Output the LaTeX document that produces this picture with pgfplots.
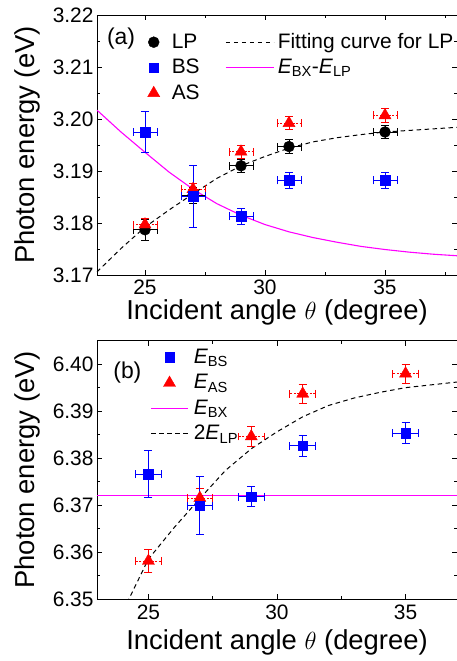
\documentclass[border=0pt]{standalone}
\usepackage{fontspec}
\setmainfont{Liberation Sans}
\usepackage{pgfplots}
\pgfplotsset{compat=1.18}

\definecolor{mgt}{RGB}{255,0,255}
\definecolor{bl}{RGB}{0,0,255}
\definecolor{rd}{RGB}{255,0,0}

\pgfplotsset{
  panel/.style={
    scale only axis, width=360bp,
    xtick={25,30,35}, minor xtick={27.5,32.5,37.5}, minor y tick num=1,
    major tick length=5bp, minor tick length=3bp,
    tick style={line width=0.8pt, black},
    axis line style={line width=1pt},
    tick label style={font=\fontsize{21}{25}\selectfont},
    /pgf/number format/assume math mode=true,
    yticklabel style={/pgf/number format/fixed, /pgf/number format/fixed zerofill, /pgf/number format/precision=2},
    xticklabel style={anchor=base, yshift=-20bp},
    label style={font=\fontsize{27.5}{32}\selectfont},
    ylabel style={at={(axis description cs:-0.1944,0.5)}, anchor=center},
    legend cell align=left,
    legend style={draw=none, fill=none, anchor=north west, font=\fontsize{21}{25}\selectfont,
      nodes={inner sep=2bp, text height=16bp, text depth=4bp}, row sep=1.5bp},
  },
  ebar/.style={error bars/.cd, x dir=both, x explicit, y dir=both, y explicit,
    error bar style={line width=0.9pt},
    error mark options={rotate=90, mark size=4pt, line width=0.9pt}, /pgfplots/.cd},
  yebar/.style={error bars/.cd, y dir=both, y explicit,
    error bar style={line width=0.9pt},
    error mark options={rotate=90, mark size=4pt, line width=0.9pt}, /pgfplots/.cd},
  xebar/.style={error bars/.cd, x dir=both, x explicit,
    error bar style={line width=0.9pt, dash pattern=on 2bp off 1.5bp},
    error mark options={rotate=90, mark size=4pt, line width=0.9pt, solid}, /pgfplots/.cd},
  mimg/.style={legend image code/.code={\draw[##1] plot coordinates {(#1,0bp)};}},
  limg/.style={legend image code/.code={\draw[##1] (0bp,0bp) -- (#1,0bp);}},
  dsh/.style={black, line width=1pt, dash pattern=on 4.5bp off 3.5bp},
  mline/.style={draw=mgt, line width=1.6pt},
}

\begin{document}
\begin{tikzpicture}
\path[use as bounding box] (-97bp,15bp) rectangle (360bp,-646bp);

% ---------- (a) ----------
\begin{axis}[panel, name=top, at={(0,0)}, anchor=north west, height=260bp,
  xmin=23, xmax=38, ymin=3.17, ymax=3.22,
  ytick={3.17,3.18,3.19,3.20,3.21,3.22},
  xlabel={Incident angle $\theta$ (degree)}, ylabel={Photon energy (eV)},
  xlabel style={at={(axis description cs:0.5,0)}, yshift=-44bp, anchor=base},
  legend columns=2,
  legend style={at={(axis description cs:0.132,0.95)},
    /tikz/column 1/.style={column sep=10bp},
    /tikz/column 2/.style={column sep=23.5bp},
    /tikz/column 3/.style={column sep=1bp}},
]
\addlegendimage{mimg=0bp, mark=*, mark size=5.5pt, black}
\addlegendentry{LP}
\addlegendimage{limg=48bp, dsh}
\addlegendentry{Fitting curve for LP}
\addlegendimage{mimg=0bp, mark=square*, mark size=4.8pt, bl}
\addlegendentry{BS}
\addlegendimage{limg=48bp, mline}
\addlegendentry{\textit{E}\textsubscript{BX}-\textit{E}\textsubscript{LP}}
\addlegendimage{mimg=0bp, mark=triangle*, mark size=7pt, rd}
\addlegendentry{AS}

% E_BX - E_LP
\addplot[mline, line width=1.1pt, forget plot] coordinates {
 (23,3.2017) (24,3.1975) (25,3.1936) (26,3.1898) (27,3.1865) (28,3.1837)
 (29,3.1815) (30,3.1797) (31,3.1783) (32,3.1772) (33,3.1763) (34,3.1755)
 (35,3.1749) (36,3.1744) (37,3.1740) (38,3.1737)};
% fitting curve for LP
\addplot[dsh, forget plot] coordinates {
 (23,3.1706) (24,3.1751) (25,3.1792) (26,3.1825) (27,3.1856) (28,3.1886)
 (29,3.1910) (30,3.1928) (31,3.1944) (32,3.1956) (33,3.1964) (34,3.1970)
 (35,3.1975) (36,3.1978) (37,3.1981) (38,3.1984)};
% LP
\addplot[forget plot, black, only marks, mark=*, mark size=5.5pt, ebar] coordinates {
 (25,3.1787) +- (0.5,0.0020)
 (27,3.1853) +- (0.5,0.0015)
 (29,3.1910) +- (0.5,0.0013)
 (31,3.1947) +- (0.5,0.0014)
 (35,3.1975) +- (0.5,0.0013)};
% AS
\addplot[forget plot, rd, only marks, mark=none, xebar] coordinates {
 (25,3.1797) +- (0.5,0)
 (27,3.1865) +- (0.5,0)
 (29,3.1937) +- (0.5,0)
 (31,3.1992) +- (0.5,0)
 (35,3.2007) +- (0.5,0)};
\addplot[forget plot, rd, only marks, mark=triangle*, mark size=7pt, yebar] coordinates {
 (25,3.1797) +- (0,0.0012)
 (27,3.1865) +- (0,0.0012)
 (29,3.1937) +- (0,0.0012)
 (31,3.1992) +- (0,0.0013)
 (35,3.2007) +- (0,0.0013)};
% BS
\addplot[forget plot, bl, only marks, mark=square*, mark size=4.8pt, ebar] coordinates {
 (25,3.1975) +- (0.5,0.0040)
 (27,3.1851) +- (0.5,0.0060)
 (29,3.1813) +- (0.5,0.0015)
 (31,3.1882) +- (0.5,0.0015)
 (35,3.1882) +- (0.5,0.0015)};
\node[font=\fontsize{23}{27}\selectfont] at (axis description cs:0.0667,0.908) {(a)};
\end{axis}

% ---------- (b) ----------
\begin{axis}[panel, at={(0,-325.7bp)}, anchor=north west, height=258.3bp,
  xmin=23, xmax=37, ymin=6.35, ymax=6.405,
  ytick={6.35,6.36,6.37,6.38,6.39,6.40},
  xlabel={Incident angle $\theta$ (degree)}, ylabel={Photon energy (eV)},
  xlabel style={at={(axis description cs:0.5,0)}, yshift=-50bp, anchor=base},
  legend style={at={(axis description cs:0.139,0.99)},
    /tikz/column 1/.style={column sep=3bp}},
]
\addlegendimage{mimg=18.5bp, mark=square*, mark size=4.8pt, bl}
\addlegendentry{\textit{E}\textsubscript{BS}}
\addlegendimage{mimg=18.5bp, mark=triangle*, mark size=7pt, rd}
\addlegendentry{\textit{E}\textsubscript{AS}}
\addlegendimage{limg=37bp, mline}
\addlegendentry{\textit{E}\textsubscript{BX}}
\addlegendimage{limg=37bp, dsh}
\addlegendentry{2\textit{E}\textsubscript{LP}}

% E_BX
\addplot[mline, forget plot] coordinates {(23,6.372) (37,6.372)};
% 2 E_LP
\addplot[dsh, forget plot] coordinates {
 (23.5,6.3415) (24,6.3473) (25,6.3585) (26,6.3652) (27,6.3714) (28,6.3774)
 (29,6.3820) (30,6.3856) (31,6.3888) (32,6.3912) (33,6.3928) (34,6.3940)
 (35,6.3950) (36,6.3956) (37,6.3962)};
% AS
\addplot[forget plot, rd, only marks, mark=none, xebar] coordinates {
 (25,6.3581) +- (0.5,0)
 (27,6.3715) +- (0.5,0)
 (29,6.3846) +- (0.5,0)
 (31,6.3937) +- (0.5,0)
 (35,6.3980) +- (0.5,0)};
\addplot[forget plot, rd, only marks, mark=triangle*, mark size=7pt, yebar] coordinates {
 (25,6.3581) +- (0,0.0024)
 (27,6.3715) +- (0,0.0020)
 (29,6.3846) +- (0,0.0021)
 (31,6.3937) +- (0,0.0020)
 (35,6.3980) +- (0,0.0020)};
% BS
\addplot[forget plot, bl, only marks, mark=square*, mark size=4.8pt, ebar] coordinates {
 (25,6.3766) +- (0.5,0.0050)
 (27,6.3699) +- (0.5,0.0061)
 (29,6.3718) +- (0.5,0.0021)
 (31,6.3826) +- (0.5,0.0022)
 (35,6.3853) +- (0.5,0.0022)};
\node[font=\fontsize{23}{27}\selectfont] at (axis description cs:0.0844,0.878) {(b)};
\end{axis}
\end{tikzpicture}
\end{document}
